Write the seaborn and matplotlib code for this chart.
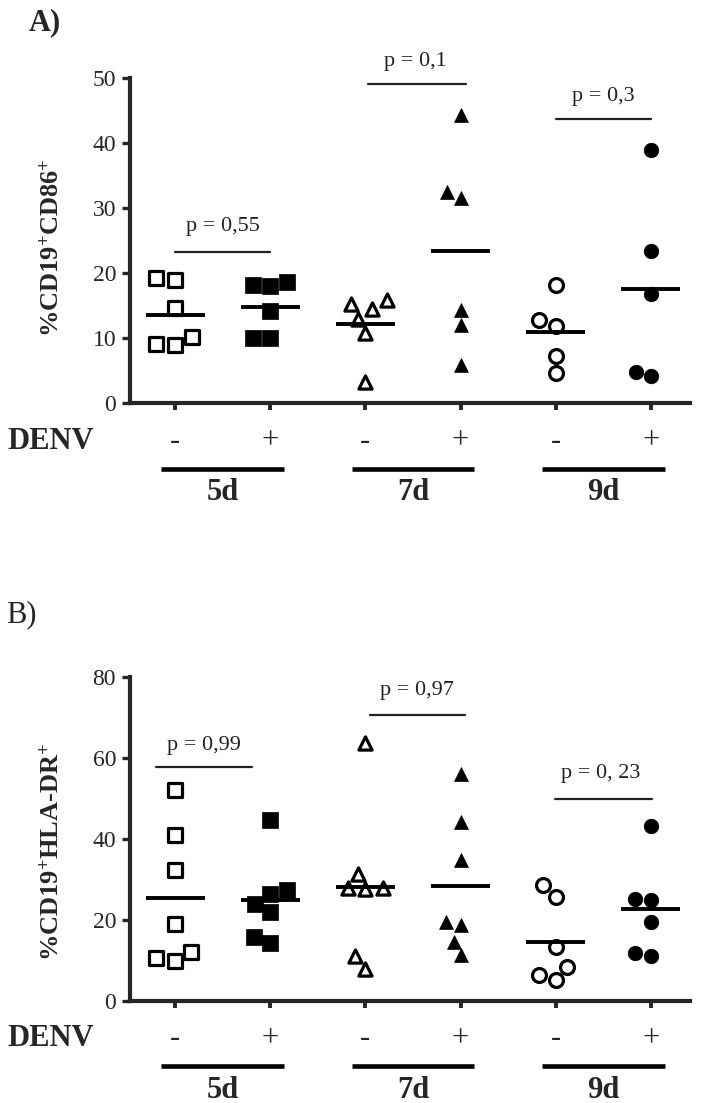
import numpy as np
import pandas as pd
import matplotlib
matplotlib.use("Agg")
import matplotlib.pyplot as plt
import seaborn as sns

# ---------------- data ----------------
categories = ["5d -", "5d +", "7d -", "7d +", "9d -", "9d +"]
denv_labels = ["-", "+", "-", "+", "-", "+"]
day_labels = ["5d", "7d", "9d"]

# Panel A: %CD19+CD86+
a_5d_neg = [19.0, 19.2, 14.6, 10.1, 9.0, 9.1]
a_5d_pos = [18.6, 18.0, 18.2, 14.2, 10.0, 10.0]
a_7d_neg = [15.8, 14.5, 15.3, 13.0, 10.7, 3.3]
a_7d_pos = [44.3, 31.5, 32.5, 14.3, 12.0, 5.8]
a_9d_neg = [18.2, 12.8, 11.8, 7.3, 4.6]
a_9d_pos = [38.9, 23.4, 16.7, 4.1, 4.8]

# Panel B: %CD19+HLA-DR+
b_5d_neg = [52.0, 41.1, 32.4, 19.1, 12.1, 10.0, 10.5]
b_5d_pos = [44.8, 27.3, 26.5, 24.0, 22.0, 15.8, 14.2]
b_7d_neg = [63.8, 31.3, 27.8, 27.6, 28.0, 7.8, 11.1]
b_7d_pos = [56.1, 44.2, 34.7, 19.5, 18.7, 14.6, 11.3]
b_9d_neg = [28.6, 25.7, 13.3, 8.4, 6.3, 5.1]
b_9d_pos = [43.2, 24.9, 25.3, 19.5, 11.1, 11.9]

a_pvalues = ["p = 0,55", "p = 0,1", "p = 0,3"]
b_pvalues = ["p = 0,99", "p = 0,97", "p = 0, 23"]

a_yticks = [0, 10, 20, 30, 40, 50]
b_yticks = [0, 20, 40, 60, 80]

# ---------------- style ----------------
sns.set_style("ticks")
plt.rcParams["font.family"] = ["Liberation Serif", "DejaVu Serif"]
plt.rcParams["mathtext.fontset"] = "custom"
plt.rcParams["mathtext.rm"] = "Liberation Serif"
plt.rcParams["mathtext.bf"] = "Liberation Serif:bold"
plt.rcParams["mathtext.it"] = "Liberation Serif:italic"

markers = ["s", "s", "^", "^", "o", "o"]
filled = [False, True, False, True, False, True]
msizes = [10.5, 11.5, 9.5, 10, 10, 10.5]

fig = plt.figure(figsize=(7.02, 11.03), dpi=100)
axA = fig.add_axes([130 / 702, 1 - 403 / 1103, 560 / 702, 325 / 1103])
axB = fig.add_axes([130 / 702, 1 - 1001 / 1103, 560 / 702, 324 / 1103])


def draw_panel(ax, groups, ymax, yticks, ylabel, pvals, plines, ptexts, label_y):
    counts = [len(g) for g in groups]
    df = pd.DataFrame({
        "cond": np.repeat(categories, counts),
        "value": np.concatenate(groups),
    })
    for i, cat in enumerate(categories):
        sub = df[df["cond"] == cat]
        sns.swarmplot(
            data=sub, x="cond", y="value", order=categories, ax=ax,
            marker=markers[i], size=msizes[i],
            color="black" if filled[i] else "white",
            edgecolor="black", linewidth=2.3 if not filled[i] else 0.5,
            zorder=3,
        )
    means = df.groupby("cond", sort=False)["value"].mean().reindex(categories)
    xs = np.arange(len(categories))
    ax.hlines(means.values, xs - 0.31, xs + 0.31, colors="black", lw=2.8, zorder=4)

    ax.set_xlim(-0.473, 5.41)
    ax.set_ylim(0, ymax)
    ax.set_yticks(yticks)
    ax.set_xticks(xs)
    ax.set_xticklabels([])
    ax.set_xlabel("")
    ax.set_ylabel(ylabel, fontsize=19, fontweight="bold", va="center")
    ax.yaxis.set_label_coords(-0.14, label_y)
    for s in ["top", "right"]:
        ax.spines[s].set_visible(False)
    for s in ["left", "bottom"]:
        ax.spines[s].set_linewidth(3)
    ax.tick_params(axis="y", direction="out", length=6, width=2.4, labelsize=17, pad=4)
    ax.tick_params(axis="x", direction="out", length=5, width=2.8)

    # p-value brackets
    for txt, (x0, x1, yl), (xt, yt) in zip(pvals, plines, ptexts):
        ax.plot([x0, x1], [yl, yl], color="#222222", lw=1.6, clip_on=False, zorder=2)
        ax.text(xt, yt, txt, ha="center", va="center", fontsize=16, color="#222222")

    # DENV +/- row, underlines, day labels
    tr = ax.get_xaxis_transform()
    ax.text(-1.765, -0.117, "DENV", transform=tr, ha="left", va="center",
            fontsize=22, fontweight="bold", clip_on=False)
    for x, lab in zip(xs, denv_labels):
        ax.text(x, -0.117, lab, transform=tr, ha="center", va="center", fontsize=22)
    for j, day in enumerate(day_labels):
        c = (xs[2 * j] + xs[2 * j + 1]) / 2
        ax.plot([c - 0.645, c + 0.645], [-0.202, -0.202], transform=tr,
                color="black", lw=3.3, clip_on=False, solid_capstyle="butt")
        ax.text(c, -0.275, day, transform=tr, ha="center", va="center",
                fontsize=22, fontweight="bold")


draw_panel(
    axA, [a_5d_neg, a_5d_pos, a_7d_neg, a_7d_pos, a_9d_neg, a_9d_pos],
    50, a_yticks, r"%CD19$^{\mathbf{+}}$CD86$^{\mathbf{+}}$", a_pvalues,
    [(0.0, 1.0, 23.2), (2.03, 3.06, 49.1), (4.0, 5.0, 43.7)],
    [(0.5, 27.1), (2.52, 52.6), (4.5, 47.2)],
    0.477,
)
draw_panel(
    axB, [b_5d_neg, b_5d_pos, b_7d_neg, b_7d_pos, b_9d_neg, b_9d_pos],
    80, b_yticks, r"%CD19$^{\mathbf{+}}$HLA-DR$^{\mathbf{+}}$", b_pvalues,
    [(-0.2, 0.81, 57.8), (2.05, 3.05, 70.7), (3.99, 5.01, 50.0)],
    [(0.3, 63.1), (2.54, 76.7), (4.47, 56.1)],
    0.46,
)

fig.text(29 / 702, 1 - 23 / 1103, "A)", fontsize=22, fontweight="bold", ha="left", va="center")
fig.text(6 / 702, 1 - 615 / 1103, "B)", fontsize=22, ha="left", va="center")

fig.savefig("out.png", dpi=100)
